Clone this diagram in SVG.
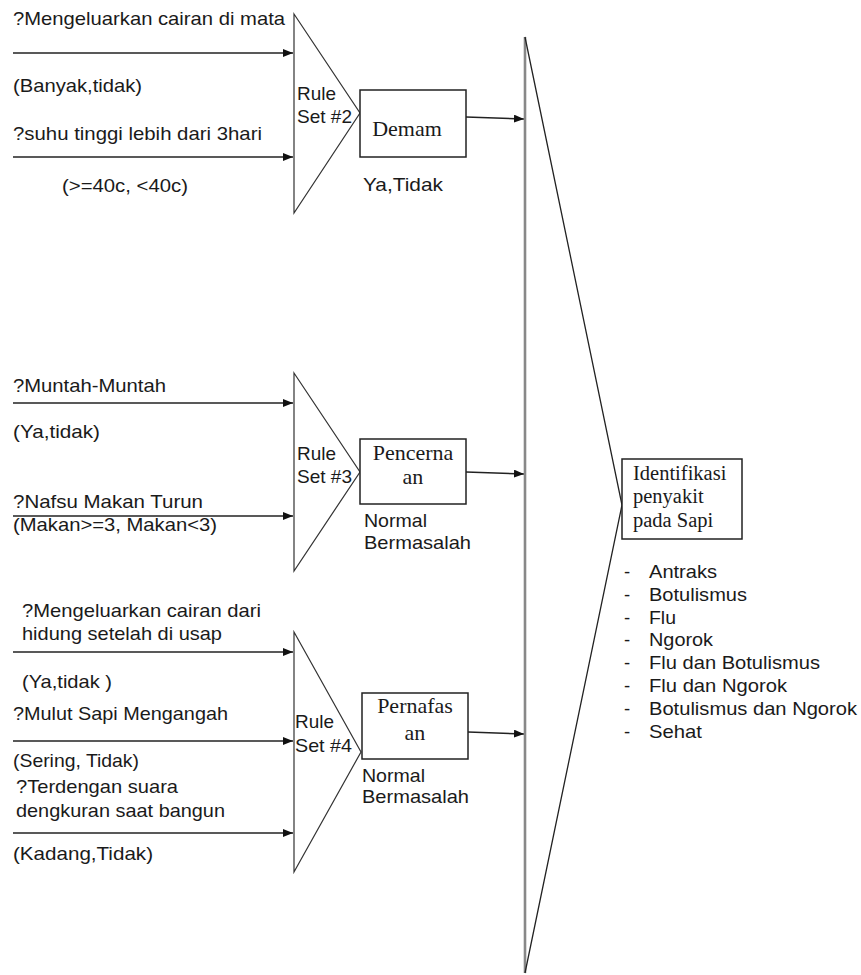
<svg xmlns="http://www.w3.org/2000/svg" width="861" height="975" viewBox="0 0 861 975">
<style>
.s{font-family:"Liberation Sans",Arial,sans-serif;font-size:18.5px;fill:#1a1a1a}
.r{font-family:"Liberation Serif","Times New Roman",serif;font-size:22px;fill:#1a1a1a}
.ri{font-family:"Liberation Serif","Times New Roman",serif;font-size:20.5px;fill:#1a1a1a}
.tri{fill:none;stroke:#333;stroke-width:1.2}
.box{fill:#fff;stroke:#222;stroke-width:1.5}
.arr{stroke:#222;stroke-width:1.6;fill:none;marker-end:url(#ah)}
</style>
<defs>
<marker id="ah" markerUnits="userSpaceOnUse" markerWidth="10" markerHeight="8" refX="10" refY="4" orient="auto">
<path d="M0,0 L10,4 L0,8 z" fill="#111"/>
</marker>
</defs>
<rect width="861" height="975" fill="#fff"/>

<g id="connectors">
<line class="arr" x1="13" y1="53" x2="293" y2="53"/>
<line class="arr" x1="13" y1="157" x2="293" y2="157"/>
<line class="arr" x1="13" y1="403" x2="293" y2="403"/>
<line class="arr" x1="13" y1="516" x2="293" y2="516"/>
<line class="arr" x1="13" y1="652" x2="293" y2="652"/>
<line class="arr" x1="13" y1="741" x2="293" y2="741"/>
<line class="arr" x1="13" y1="833" x2="293" y2="833"/>
<line class="arr" x1="466" y1="117" x2="524" y2="119"/>
<line class="arr" x1="466" y1="472" x2="524" y2="474"/>
<line class="arr" x1="468" y1="732" x2="524" y2="734"/>
</g>

<g id="inputs1">
<text class="s" x="13" y="25" textLength="272" lengthAdjust="spacingAndGlyphs">?Mengeluarkan cairan di mata</text>
<text class="s" x="13" y="92" textLength="129" lengthAdjust="spacingAndGlyphs">(Banyak,tidak)</text>
<text class="s" x="13" y="140" textLength="249" lengthAdjust="spacingAndGlyphs">?suhu tinggi lebih dari 3hari</text>
<text class="s" x="62" y="192" textLength="126" lengthAdjust="spacingAndGlyphs">(&gt;=40c, &lt;40c)</text>
</g>

<g id="ruleset2">
<polygon class="tri" points="294,14 360,113 294,213"/>
<text class="s" x="297" y="100" textLength="39" lengthAdjust="spacingAndGlyphs">Rule</text>
<text class="s" x="297" y="123" textLength="55" lengthAdjust="spacingAndGlyphs">Set #2</text>
</g>

<g id="demam">
<rect class="box" x="360" y="90" width="106" height="67"/>
<text class="r" x="407" y="136" text-anchor="middle">Demam</text>
<text class="s" x="363" y="191" textLength="80" lengthAdjust="spacingAndGlyphs">Ya,Tidak</text>
</g>

<g id="inputs2">
<text class="s" x="13" y="392" textLength="153" lengthAdjust="spacingAndGlyphs">?Muntah-Muntah</text>
<text class="s" x="13" y="438" textLength="87" lengthAdjust="spacingAndGlyphs">(Ya,tidak)</text>
<text class="s" x="13" y="508" textLength="190" lengthAdjust="spacingAndGlyphs">?Nafsu Makan Turun</text>
<text class="s" x="13" y="531" textLength="204" lengthAdjust="spacingAndGlyphs">(Makan&gt;=3, Makan&lt;3)</text>
</g>

<g id="ruleset3">
<polygon class="tri" points="294,373 360,472 294,571"/>
<text class="s" x="297" y="460" textLength="39" lengthAdjust="spacingAndGlyphs">Rule</text>
<text class="s" x="297" y="483" textLength="55" lengthAdjust="spacingAndGlyphs">Set #3</text>
</g>

<g id="pencernaan">
<rect class="box" x="360" y="439" width="106" height="65"/>
<text class="r" x="413" y="460" text-anchor="middle">Pencerna</text>
<text class="r" x="413" y="484" text-anchor="middle">an</text>
<text class="s" x="364" y="527" textLength="63" lengthAdjust="spacingAndGlyphs">Normal</text>
<text class="s" x="364" y="549" textLength="107" lengthAdjust="spacingAndGlyphs">Bermasalah</text>
</g>

<g id="inputs3">
<text class="s" x="22" y="617" textLength="239" lengthAdjust="spacingAndGlyphs">?Mengeluarkan cairan dari</text>
<text class="s" x="22" y="640" textLength="200" lengthAdjust="spacingAndGlyphs">hidung setelah di usap</text>
<text class="s" x="22" y="688" textLength="90" lengthAdjust="spacingAndGlyphs">(Ya,tidak )</text>
<text class="s" x="13" y="720" textLength="215" lengthAdjust="spacingAndGlyphs">?Mulut Sapi Mengangah</text>
<text class="s" x="13" y="767" textLength="126" lengthAdjust="spacingAndGlyphs">(Sering, Tidak)</text>
<text class="s" x="16" y="793" textLength="162" lengthAdjust="spacingAndGlyphs">?Terdengan suara</text>
<text class="s" x="16" y="817" textLength="209" lengthAdjust="spacingAndGlyphs">dengkuran saat bangun</text>
<text class="s" x="13" y="860" textLength="140" lengthAdjust="spacingAndGlyphs">(Kadang,Tidak)</text>
</g>

<g id="ruleset4">
<polygon class="tri" points="294,632 361,752 294,872"/>
<text class="s" x="295" y="728" textLength="39" lengthAdjust="spacingAndGlyphs">Rule</text>
<text class="s" x="295" y="752" textLength="57" lengthAdjust="spacingAndGlyphs">Set #4</text>
</g>

<g id="pernafasan">
<rect class="box" x="362" y="693" width="106" height="66"/>
<text class="r" x="415" y="713" text-anchor="middle">Pernafas</text>
<text class="r" x="415" y="740" text-anchor="middle">an</text>
<text class="s" x="362" y="782" textLength="63" lengthAdjust="spacingAndGlyphs">Normal</text>
<text class="s" x="362" y="803" textLength="107" lengthAdjust="spacingAndGlyphs">Bermasalah</text>
</g>

<g id="final-ruleset">
<line x1="525" y1="37" x2="525" y2="973" stroke="#888" stroke-width="2.6"/>
<polyline points="525,37 622,505 525,973" fill="none" stroke="#222" stroke-width="1.3"/>
</g>

<g id="identifikasi">
<rect class="box" x="622" y="459" width="120" height="80"/>
<text class="ri" x="633" y="480">Identifikasi</text>
<text class="ri" x="633" y="503">penyakit</text>
<text class="ri" x="633" y="527">pada Sapi</text>
</g>

<g id="hasil">
<text class="s" x="624" y="578">-</text><text class="s" x="649" y="578" textLength="68" lengthAdjust="spacingAndGlyphs">Antraks</text>
<text class="s" x="624" y="601">-</text><text class="s" x="649" y="601" textLength="98" lengthAdjust="spacingAndGlyphs">Botulismus</text>
<text class="s" x="624" y="624">-</text><text class="s" x="649" y="624" textLength="27" lengthAdjust="spacingAndGlyphs">Flu</text>
<text class="s" x="624" y="646">-</text><text class="s" x="649" y="646" textLength="64" lengthAdjust="spacingAndGlyphs">Ngorok</text>
<text class="s" x="624" y="669">-</text><text class="s" x="649" y="669" textLength="171" lengthAdjust="spacingAndGlyphs">Flu dan Botulismus</text>
<text class="s" x="624" y="692">-</text><text class="s" x="649" y="692" textLength="138" lengthAdjust="spacingAndGlyphs">Flu dan Ngorok</text>
<text class="s" x="624" y="715">-</text><text class="s" x="649" y="715" textLength="208" lengthAdjust="spacingAndGlyphs">Botulismus dan Ngorok</text>
<text class="s" x="624" y="738">-</text><text class="s" x="649" y="738" textLength="53" lengthAdjust="spacingAndGlyphs">Sehat</text>
</g>
</svg>
